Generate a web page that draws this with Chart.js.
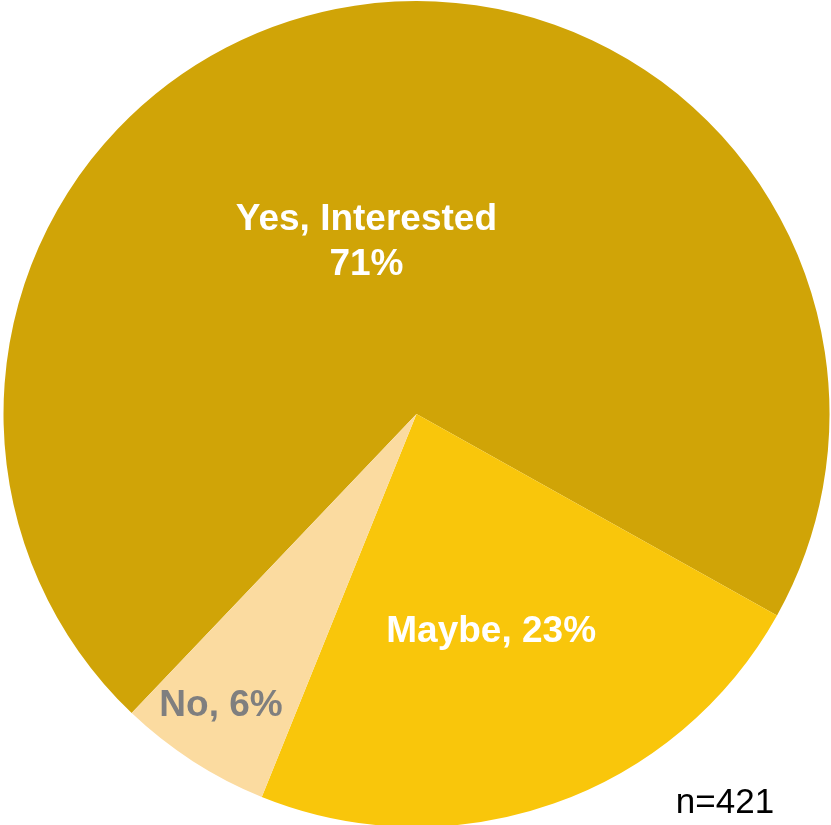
<!DOCTYPE html>
<html>
<head>
<meta charset="utf-8">
<script src="https://cdn.jsdelivr.net/npm/chart.js@4.4.0/dist/chart.umd.min.js"></script>
<style>
  html, body { margin: 0; padding: 0; background: #fff; overflow: hidden; }
  .chart-container { position: relative; width: 831px; height: 825px; }
</style>
</head>
<body>
<div class="chart-container">
  <canvas id="pie"></canvas>
</div>
<script>
// survey answers, percent of respondents
const categories = ['Yes, Interested', 'Maybe', 'No'];
const shares = [71, 23, 6];
const sampleNote = 'n=421';

const sliceColors = ['#D0A407', '#F9C60B', '#FBDBA0'];
const labelColors = ['#FFFFFF', '#FFFFFF', '#7F7F7F'];
// where each label sits: fraction along the slice's arc, fraction of the radius
const labelAlong = [0.47, 0.506, 0.546];
const labelDepth = [0.433, 0.558, 0.851];

const FONT = "'Liberation Sans', Arial, sans-serif";

function labelLines(i) {
  // first slice puts the percentage on its own line
  if (i === 0) return [categories[i], shares[i] + '%'];
  return [categories[i] + ', ' + shares[i] + '%'];
}

const sliceLabels = {
  id: 'sliceLabels',
  afterDatasetsDraw(chart) {
    const ctx = chart.ctx;
    const arcs = chart.getDatasetMeta(0).data;
    ctx.save();
    ctx.font = 'bold 37px ' + FONT;
    ctx.textAlign = 'center';
    ctx.textBaseline = 'middle';
    arcs.forEach((arc, i) => {
      const p = arc.getProps(['x', 'y', 'startAngle', 'endAngle', 'outerRadius'], true);
      const a = p.startAngle + (p.endAngle - p.startAngle) * labelAlong[i];
      const r = p.outerRadius * labelDepth[i];
      const cx = p.x + Math.cos(a) * r;
      const cy = p.y + Math.sin(a) * r;
      const lines = labelLines(i);
      const lh = 45;
      ctx.fillStyle = labelColors[i];
      lines.forEach((t, k) => {
        ctx.fillText(t, cx, cy + (k - (lines.length - 1) / 2) * lh);
      });
    });
    // sample size in the bottom right corner
    ctx.font = '35px ' + FONT;
    ctx.fillStyle = '#000000';
    ctx.fillText(sampleNote, chart.width - 106, chart.height - 22);
    ctx.restore();
  }
};

new Chart(document.getElementById('pie').getContext('2d'), {
  type: 'pie',
  data: {
    labels: categories,
    datasets: [{
      data: shares,
      backgroundColor: sliceColors,
      borderWidth: 0,
      clip: false
    }]
  },
  options: {
    responsive: true,
    maintainAspectRatio: false,
    animation: false,
    rotation: 223.6,
    radius: 413,
    layout: { padding: { left: 2, top: 3, right: 0, bottom: 0 } },
    events: [],
    plugins: {
      legend: { display: false },
      tooltip: { enabled: false }
    }
  },
  plugins: [sliceLabels]
});
</script>
</body>
</html>
